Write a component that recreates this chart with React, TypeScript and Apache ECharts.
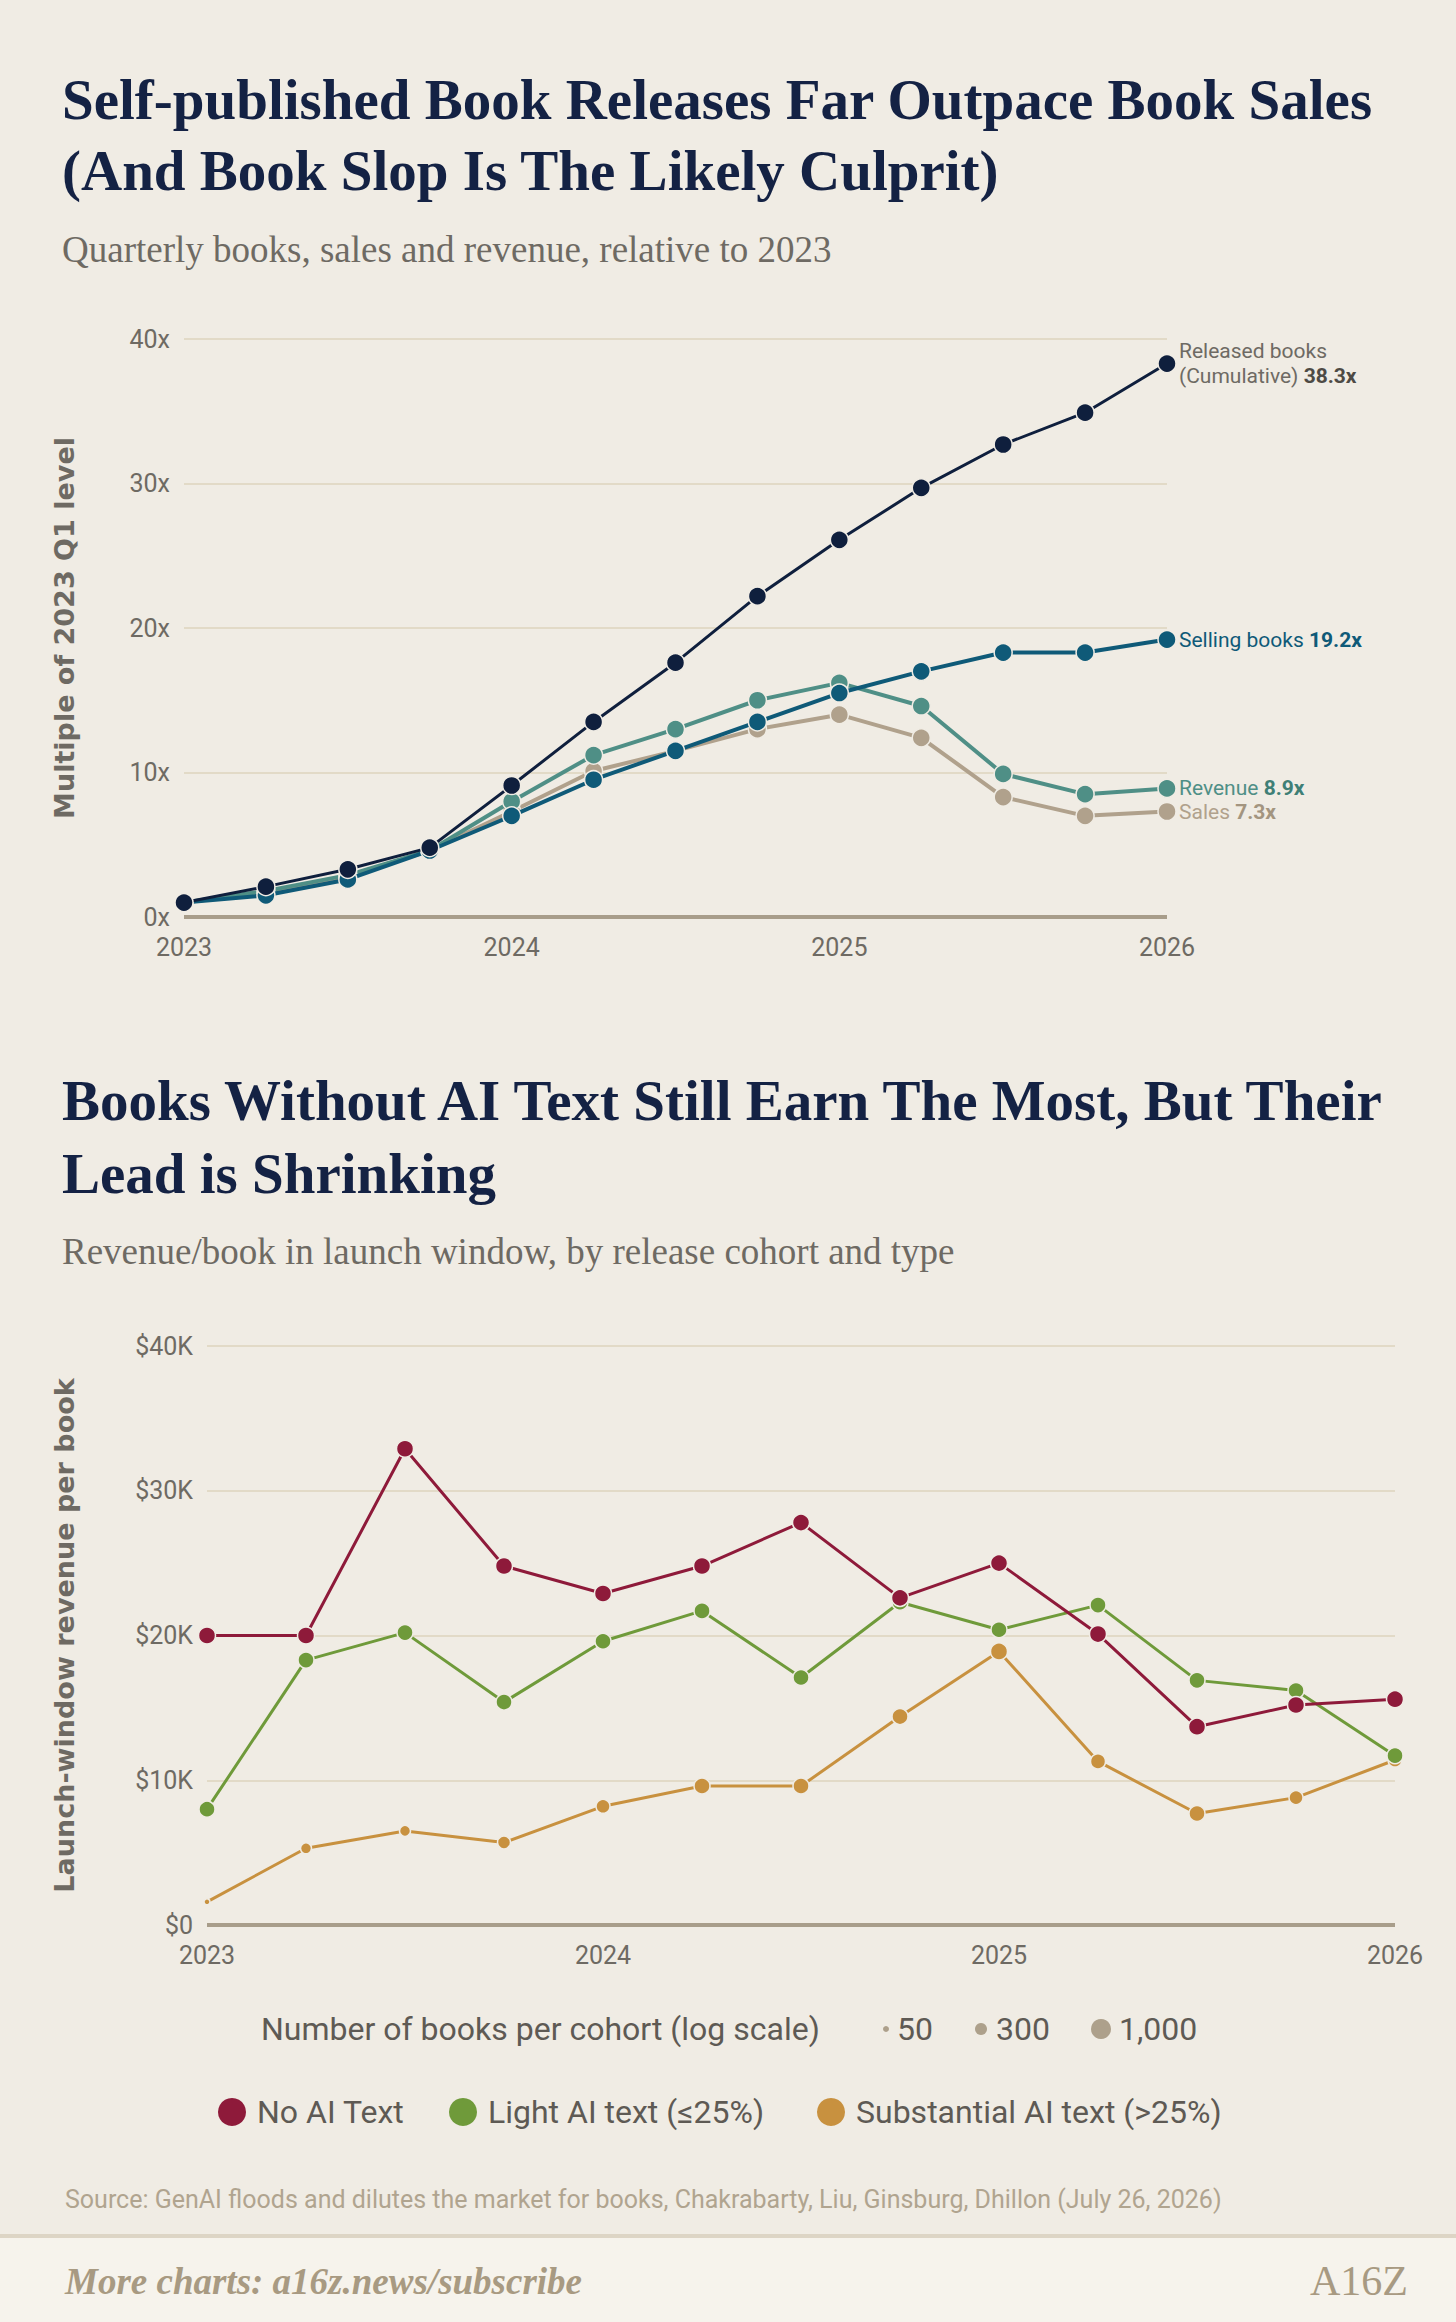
import React, { useEffect, useRef } from "react";
import * as echarts from "echarts";

const quarters = [2023, 2023.25, 2023.5, 2023.75, 2024, 2024.25, 2024.5, 2024.75, 2025, 2025.25, 2025.5, 2025.75, 2026];
const released = [1, 2.1, 3.3, 4.8, 9.1, 13.5, 17.6, 22.2, 26.1, 29.7, 32.7, 34.9, 38.3];
const selling = [1, 1.5, 2.6, 4.6, 7.0, 9.5, 11.5, 13.5, 15.5, 17.0, 18.3, 18.3, 19.2];
const revenue = [1, 1.8, 2.9, 4.6, 8.0, 11.2, 13.0, 15.0, 16.2, 14.6, 9.9, 8.5, 8.9];
const sales = [1, 1.7, 2.8, 4.6, 7.3, 10.1, 11.5, 13.0, 14.0, 12.4, 8.3, 7.0, 7.3];

const noAI = [20, 20, 32.9, 24.8, 22.9, 24.8, 27.8, 22.6, 25.0, 20.1, 13.7, 15.2, 15.6];
const lightAI = [8.0, 18.3, 20.2, 15.4, 19.6, 21.7, 17.1, 22.3, 20.4, 22.1, 16.9, 16.2, 11.7];
const substantialAI = [1.6, 5.3, 6.5, 5.7, 8.2, 9.6, 9.6, 14.4, 18.9, 11.3, 7.7, 8.8, 11.4];
const noAISize = [17, 17, 17, 17, 17, 17, 17, 17, 17, 17, 17, 17, 17];
const lightSize = [16, 16, 16, 16, 16, 16, 16, 16, 16, 16, 16, 16, 16];
const substSize = [6, 11, 11, 13, 14, 16, 16, 16, 17, 15, 16, 14, 14];

const BG = "#f0ece4";
const NARROW = "'Liberation Sans Narrow', 'Roboto', sans-serif";
const SERIF = "'Liberation Serif', 'DejaVu Serif', serif";

export default function App() {
  const ref = useRef<HTMLDivElement>(null);
  useEffect(() => {
    const chart = echarts.init(ref.current!, null, { renderer: "svg" });
    const pts = (ys: number[]) => quarters.map((q, i) => [q, ys[i]]);
    const topLine = (name: string, ys: number[], color: string, w: number, label: any, z: number) => ({
      name, type: "line", xAxisIndex: 0, yAxisIndex: 0, data: pts(ys), z,
      symbol: "circle", symbolSize: 18,
      lineStyle: { color, width: w }, itemStyle: { color, borderColor: BG, borderWidth: 1.5 },
      endLabel: label,
    });
    const botLine = (name: string, ys: number[], sizes: number[], color: string, z: number) => ({
      name, type: "line", xAxisIndex: 1, yAxisIndex: 1, data: pts(ys), z,
      symbol: "circle", symbolSize: (_v: any, p: any) => sizes[p.dataIndex],
      lineStyle: { color, width: 3 }, itemStyle: { color, borderColor: BG, borderWidth: 1.5 },
    });
    const axisLabel = { fontFamily: NARROW, fontSize: 25, color: "#6e6a63" };
    const xAx = (gi: number) => ({
      type: "value", gridIndex: gi, min: 2023, max: 2026, interval: 1,
      axisLabel: { ...axisLabel, margin: 18, formatter: (v: number) => String(v) }, axisTick: { show: false },
      axisLine: { show: false }, splitLine: { show: false },
    });
    const yAx = (gi: number, name: string, gap: number, fmt: any) => ({
      type: "value", gridIndex: gi, min: 0, max: 40, interval: 10,
      name, nameLocation: "middle", nameGap: gap, nameRotate: 90,
      nameTextStyle: { fontFamily: "'DejaVu Sans', sans-serif", fontWeight: "bold", fontSize: 27, color: "#6e6a63" },
      axisLabel: { ...axisLabel, formatter: fmt, margin: 14 },
      axisLine: { show: false }, axisTick: { show: false },
      splitLine: { lineStyle: { color: "#e2dac7", width: 2 } },
    });
    const endLbl = (fmt: string, color: string, bcolor: string) => ({
      show: true, formatter: fmt, distance: 12, fontFamily: NARROW, fontSize: 21, color, lineHeight: 25,
      rich: { b: { fontFamily: NARROW, fontSize: 21, fontWeight: "bold", color: bcolor } },
    });
    const zeroLine = (gi: number) => ({
      type: "line", xAxisIndex: gi, yAxisIndex: gi, data: [[2023, 0], [2026, 0]], symbol: "none", silent: true, z: 1,
      lineStyle: { color: "#a89d8a", width: 4 },
    });
    const text = (x: number, y: number, t: string, style: any) => ({ type: "text", x, y, style: { text: t, ...style } });
    const title = { fontFamily: SERIF, fontSize: 57, fontWeight: "bold", fill: "#142244", verticalAlign: "middle" };
    const sub = { fontFamily: SERIF, fontSize: 37, fill: "#6e6a63", verticalAlign: "middle" };
    const leg = { fontFamily: NARROW, fontSize: 32, fill: "#5e5a54", verticalAlign: "middle" };
    chart.setOption({
      animation: false,
      backgroundColor: BG,
      grid: [
        { left: 184, right: 289, top: 339, height: 578 },
        { left: 207, right: 61, top: 1346, height: 579 },
      ],
      xAxis: [xAx(0), xAx(1)],
      yAxis: [yAx(0, "Multiple of 2023 Q1 level", 106, "{value}x"), yAx(1, "Launch-window revenue per book", 129, (v: number) => (v === 0 ? "$0" : `$${v}K`))],
      series: [
        zeroLine(0), zeroLine(1),
        topLine("Sales", sales, "#b0a18c", 4, endLbl("Sales {b|7.3x}", "#b0a18c", "#a39580"), 2),
        topLine("Revenue", revenue, "#4f8f86", 4, endLbl("Revenue {b|8.9x}", "#4f8f86", "#3f7f76"), 3),
        topLine("Selling", selling, "#0f5a78", 4, endLbl("Selling books {b|19.2x}", "#0f5a78", "#0f5a78"), 4),
        topLine("Released", released, "#0f1f3d", 3, endLbl("Released books\n(Cumulative) {b|38.3x}", "#6e6a63", "#4e4a44"), 5),
        botLine("Substantial AI text (>25%)", substantialAI, substSize, "#c8913f", 3),
        botLine("Light AI text (≤25%)", lightAI, lightSize, "#6f9a3a", 4),
        botLine("No AI Text", noAI, noAISize, "#8e1a3a", 5),
      ],
      graphic: [
        text(62, 99, "Self-published Book Releases Far Outpace Book Sales", title),
        text(62, 170, "(And Book Slop Is The Likely Culprit)", title),
        text(62, 249, "Quarterly books, sales and revenue, relative to 2023", sub),
        text(62, 1100, "Books Without AI Text Still Earn The Most, But Their", title),
        text(62, 1173, "Lead is Shrinking", title),
        text(62, 1251, "Revenue/book in launch window, by release cohort and type", sub),
        text(261, 2029, "Number of books per cohort (log scale)", leg),
        { type: "circle", shape: { cx: 886, cy: 2029, r: 3 }, style: { fill: "#ada08b" } },
        text(897, 2029, "50", leg),
        { type: "circle", shape: { cx: 981, cy: 2029, r: 6 }, style: { fill: "#ada08b" } },
        text(996, 2029, "300", leg),
        { type: "circle", shape: { cx: 1101, cy: 2029, r: 10 }, style: { fill: "#ada08b" } },
        text(1119, 2029, "1,000", leg),
        { type: "circle", shape: { cx: 232, cy: 2112, r: 14 }, style: { fill: "#8e1a3a" } },
        text(257, 2112, "No AI Text", leg),
        { type: "circle", shape: { cx: 463, cy: 2112, r: 14 }, style: { fill: "#6f9a3a" } },
        text(488, 2112, "Light AI text (≤25%)", leg),
        { type: "circle", shape: { cx: 831, cy: 2112, r: 14 }, style: { fill: "#c8913f" } },
        text(856, 2112, "Substantial AI text (>25%)", leg),
        text(65, 2199, "Source: GenAI floods and dilutes the market for books, Chakrabarty, Liu, Ginsburg, Dhillon (July 26, 2026)", { fontFamily: NARROW, fontSize: 25, fill: "#b0a48f", verticalAlign: "middle" }),
        { type: "rect", shape: { x: 0, y: 2236, width: 1456, height: 86 }, style: { fill: "#f6f3ec" } },
        { type: "rect", shape: { x: 0, y: 2234, width: 1456, height: 4 }, style: { fill: "#ddd5c5" } },
        text(65, 2281, "More charts: a16z.news/subscribe", { fontFamily: SERIF, fontSize: 37, fontStyle: "italic", fontWeight: "bold", fill: "#a89a82", verticalAlign: "middle" }),
        text(1310, 2281, "A16Z", { fontFamily: SERIF, fontSize: 42, fill: "#a89a82", verticalAlign: "middle" }),
      ],
    });
    return () => chart.dispose();
  }, []);
  return <div ref={ref} style={{ position: "absolute", left: 0, top: 0, width: 1456, height: 2322 }} />;
}
